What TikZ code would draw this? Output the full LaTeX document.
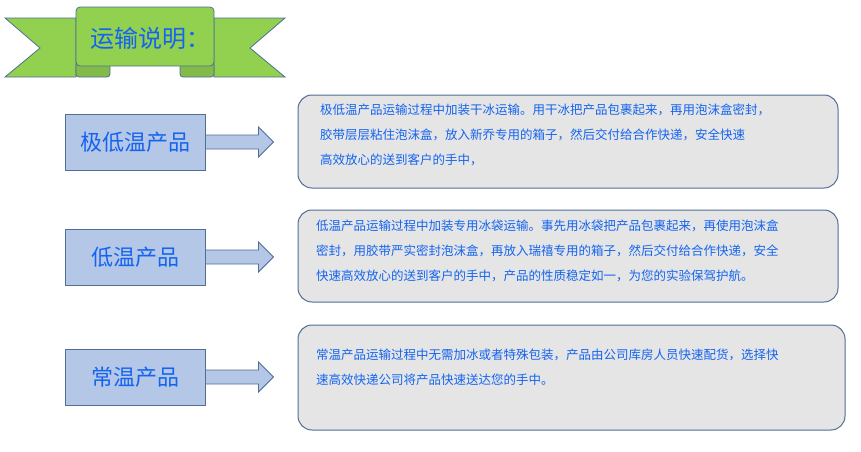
\documentclass[tikz,border=0pt]{standalone}
\usepackage{fontspec}
\setmainfont{Noto Sans CJK SC}
\definecolor{txtblue}{RGB}{20,100,240}
\definecolor{boxblue}{RGB}{180,199,231}
\definecolor{edgeblue}{RGB}{80,110,150}
\definecolor{ribbon}{RGB}{146,208,80}
\begin{document}
\begin{tikzpicture}[x=1pt,y=-1pt]
  \tikzset{kind box/.style={rectangle, draw=edgeblue, fill=boxblue, line width=1pt,
      minimum width=140pt, minimum height=56pt, text=txtblue, font=\fontsize{22}{26}\selectfont}, }
  \tikzset{note box/.style={rectangle, draw=edgeblue, fill=gray!20, line width=1pt,
      rounded corners=14pt}, }
  \tikzset{note text/.style={anchor=north west, text=txtblue, align=left,
      font=\fontsize{12.5}{25}\selectfont, inner sep=0pt}, }
  \tikzset{linea/.style={draw=edgeblue, fill=boxblue, line width=0.8pt, line join=miter}, }
\useasboundingbox (0,0) rectangle (861,451);
% banner
\begin{scope}[draw=edgeblue, fill=ribbon, line width=0.8pt]
\filldraw (5,18) -- (76,18) -- (76,77) -- (5,77) -- (40,48) -- cycle;
\filldraw (285,18) -- (214,18) -- (214,77) -- (285,77) -- (250,48) -- cycle;
\filldraw[fill=ribbon!90!black, rounded corners=3pt] (76,62) -- (110,62) -- (110,77) -- (76,77) -- cycle;
\filldraw[fill=ribbon!90!black, rounded corners=3pt] (214,62) -- (180,62) -- (180,77) -- (214,77) -- cycle;
\filldraw[rounded corners=4pt] (76,7) rectangle (214,66);
\end{scope}
\node[text=txtblue, font=\fontsize{24}{28}\selectfont] (title) at (150,38) {运输说明：};
% kinds
\node[kind box] (k1) at (135,142) {极低温产品};
\node[kind box] (k2) at (135,257) {低温产品};
\node[kind box] (k3) at (135,377) {常温产品};
\foreach \k in {k1,k2,k3}
  \filldraw[linea] (\k.east) ++(0,-7) -- ++(53,0) -- ++(0,-8) -- ++(15,15)
     -- ++(-15,15) -- ++(0,-8) -- ++(-53,0) -- cycle;
% notes
\draw[note box] (298,95) rectangle (838,188);
\draw[note box] (298,210) rectangle (838,302);
\draw[note box] (298,325) rectangle (845,430);
\node[note text] (n1) at (320,104) {极低温产品运输过程中加装干冰运输。用干冰把产品包裹起来，再用泡沫盒密封，\\胶带层层粘住泡沫盒，放入新乔专用的箱子，然后交付给合作快递，安全快速\\高效放心的送到客户的手中，};
\node[note text] (n2) at (316,220) {低温产品运输过程中加装专用冰袋运输。事先用冰袋把产品包裹起来，再使用泡沫盒\\密封，用胶带严实密封泡沫盒，再放入瑞禧专用的箱子，然后交付给合作快递，安全\\快速高效放心的送到客户的手中，产品的性质稳定如一，为您的实验保驾护航。};
\node[note text] (n3) at (316,349) {常温产品运输过程中无需加冰或者特殊包装，产品由公司库房人员快速配货，选择快\\速高效快递公司将产品快速送达您的手中。};
\end{tikzpicture}
\end{document}
